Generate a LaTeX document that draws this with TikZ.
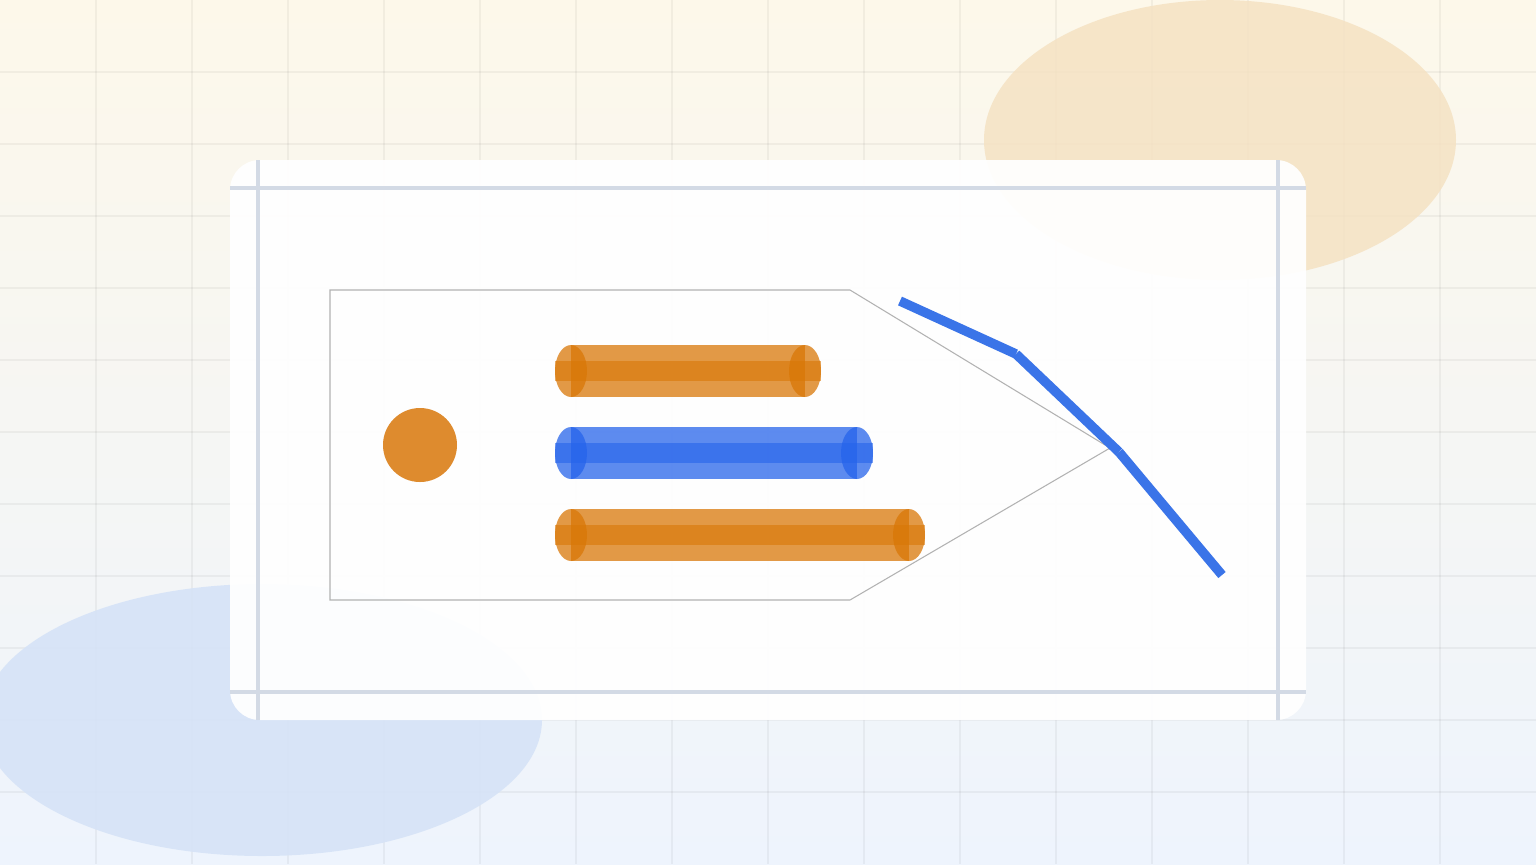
\documentclass[tikz,border=0pt]{standalone}
\begin{document}
\begin{tikzpicture}[x=0.1mm,y=-0.1mm,
  gridline/.style={draw=black,draw opacity=0.045,line width=0.3pt},
  cardline/.style={draw=cardedge,line width=0.9pt},
  tagline/.style={draw=black!30,line width=0.3pt},
  barlight/.style={fill=#1,fill opacity=0.74},
  zig/.style={draw=zigblue,line width=2.7pt,line cap=butt}]
\definecolor{topbg}{HTML}{FDF8EA}
\definecolor{botbg}{HTML}{EEF4FD}
\definecolor{cardedge}{HTML}{D3DAE5}
\definecolor{blobor}{HTML}{F5E2C3}
\definecolor{blobbl}{HTML}{D6E3F7}
\definecolor{orng}{HTML}{D97706}
\definecolor{blu}{HTML}{2563EB}
\definecolor{dot}{HTML}{DE8B2E}
\definecolor{zigblue}{HTML}{3A74E8}
\useasboundingbox (0,0) rectangle (1536,864);
% background
\shade[top color=topbg,bottom color=botbg] (0,0) rectangle (1536,864);
\foreach \gx in {96,192,...,1440} \draw[gridline] (\gx,0) -- (\gx,864);
\foreach \gy in {72,144,...,792} \draw[gridline] (0,\gy) -- (1536,\gy);
\fill[blobor,opacity=0.85] (1220,140) ellipse [x radius=236, y radius=140];
\fill[blobbl,opacity=0.9] (262,720) ellipse [x radius=280, y radius=136];
% card
\node[draw=none,fill=white,fill opacity=0.94,rounded corners=8.5pt,minimum width=1076*0.1mm,minimum height=560*0.1mm,inner sep=0pt] (card) at (768,440) {};
\draw[cardline] (258,160) -- (258,720);
\draw[cardline] (1278,160) -- (1278,720);
\draw[cardline] (230,188) -- (1306,188);
\draw[cardline] (230,692) -- (1306,692);
% tag outline
\coordinate (t1) at (330,290);
\coordinate (t2) at (850,290);
\coordinate (t3) at (1110,448);
\coordinate (t4) at (850,600);
\coordinate (t5) at (330,600);
\draw[tagline] (t1) -- (t2) -- (t3) -- (t4) -- (t5) -- cycle;
% dot
\fill[dot] (420,445) circle [radius=37];
% bars
\foreach \yy/\xe/\cc in {371/805/orng,453/857/blu,535/909/orng}{
  \fill[barlight=\cc] (571,\yy-26) rectangle (\xe,\yy+26);
  \fill[barlight=\cc] (571,\yy) ellipse [x radius=16, y radius=26];
  \fill[barlight=\cc] (\xe,\yy) ellipse [x radius=16, y radius=26];
  \fill[barlight=\cc,fill opacity=0.6] (555,\yy-10) rectangle (\xe+16,\yy+10);
}
% zigzag
\coordinate (z1) at (900,301);
\coordinate (z2) at (1016,354);
\coordinate (z3) at (1119,452);
\coordinate (z4) at (1222,575);
\draw[zig] (z1) -- (z2);
\draw[zig] (z2) -- (z3);
\draw[zig] (z3) -- (z4);
\end{tikzpicture}
\end{document}
